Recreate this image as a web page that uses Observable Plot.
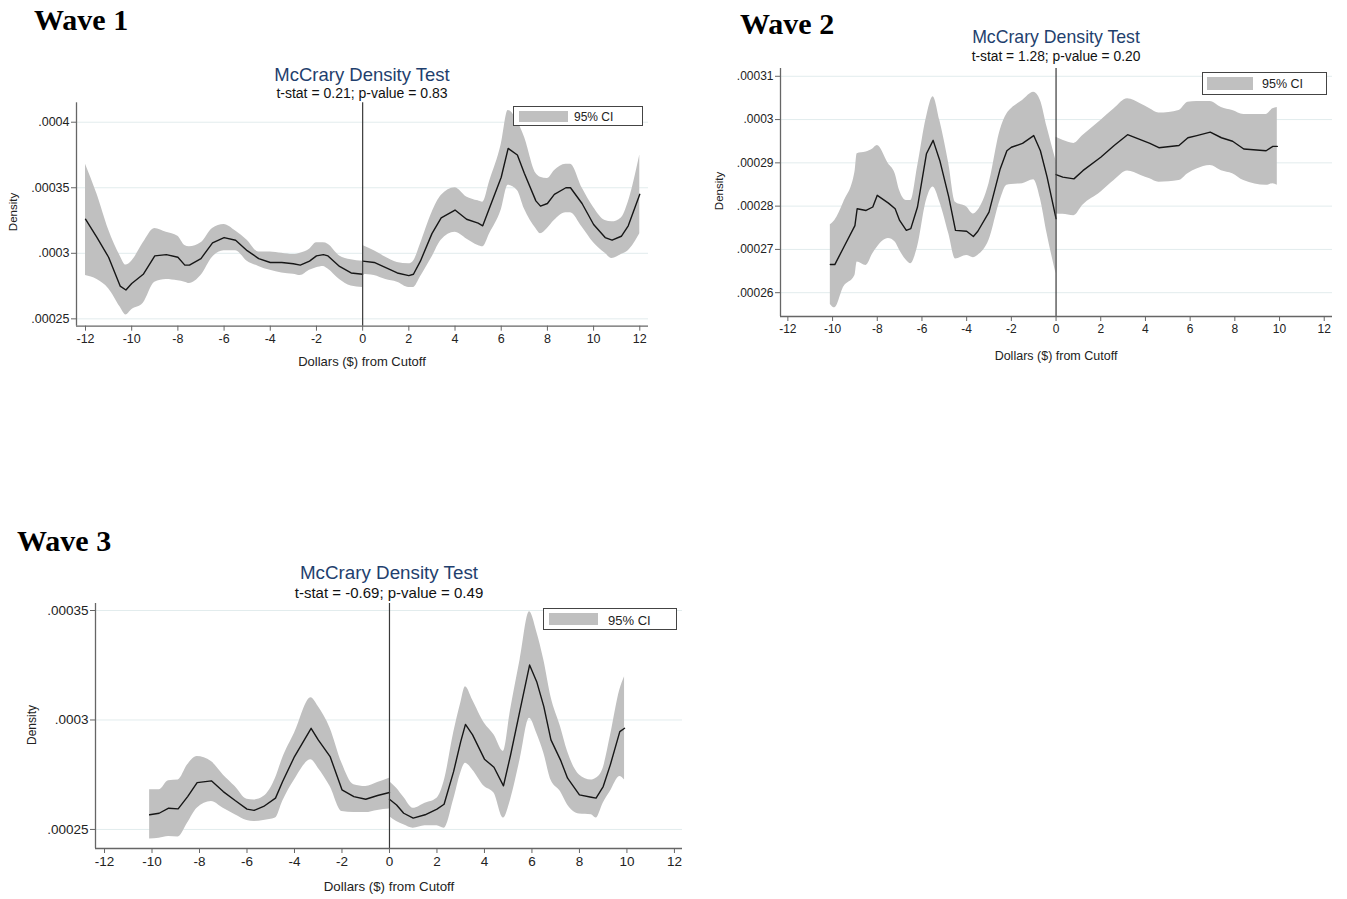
<!DOCTYPE html>
<html>
<head>
<meta charset="utf-8">
<script src="https://cdn.jsdelivr.net/npm/d3@7"></script>
<script src="https://cdn.jsdelivr.net/npm/@observablehq/plot@0.6"></script>
<style>
  html, body { margin: 0; padding: 0; background: #fff; }
  #root { position: relative; width: 1347px; height: 899px; overflow: hidden; font-family: "Liberation Sans", Arial, sans-serif; }
  .abs { position: absolute; white-space: nowrap; line-height: 1; }
  .ctr { transform: translate(-50%, -50%); }
  .wave { font-family: "Liberation Serif", serif; font-weight: bold; font-size: 30px; color: #000; }
  .title { color: #1f3f6e; }
  .sub { color: #111; }
  .axt { color: #222; }
  .rot { transform: translate(-50%, -50%) rotate(-90deg); }
  .legend { border: 1px solid #444; background: #fff; box-sizing: border-box; }
  .sw { background: #c0c0c0; }
</style>
</head>
<body>
<div id="root"></div>
<script>
// ---------- Data ----------
const xTicks = [-12, -10, -8, -6, -4, -2, 0, 2, 4, 6, 8, 10, 12];
const xAxisTitle = "Dollars ($) from Cutoff";
const yAxisTitle = "Density";
const chartTitle = "McCrary Density Test";
const legendLabel = "95% CI";
const waveLabels = ["Wave 1", "Wave 2", "Wave 3"];
const subtitles = ["t-stat = 0.21; p-value = 0.83", "t-stat = 1.28; p-value = 0.20", "t-stat = -0.69; p-value = 0.49"];

const w1YTicks = [0.00025, 0.0003, 0.00035, 0.0004];
const w2YTicks = [0.00026, 0.00027, 0.00028, 0.00029, 0.0003, 0.00031];
const w3YTicks = [0.00025, 0.0003, 0.00035];

// Wave 1, left of cutoff
const w1LeftX   = [-12, -11.5, -11, -10.5, -10.25, -10, -9.5, -9, -8.5, -8, -7.7, -7.5, -7, -6.5, -6, -5.5, -5, -4.5, -4, -3.5, -3, -2.7, -2.3, -2, -1.7, -1.5, -1, -0.5, 0];
const w1LeftEst = [0.000326, 0.000312, 0.000297, 0.000275, 0.000272, 0.000277, 0.000284, 0.000298, 0.000299, 0.000297, 0.000291, 0.000291, 0.000296, 0.000308, 0.000312, 0.000310, 0.000302, 0.000296, 0.000293, 0.000293, 0.000292, 0.000291, 0.000294, 0.000298, 0.000299, 0.000298, 0.000290, 0.000285, 0.000284];
const w1LeftLo  = [0.000283, 0.000280, 0.000273, 0.000259, 0.000253, 0.000257, 0.000262, 0.000278, 0.000280, 0.000279, 0.000278, 0.000277, 0.000283, 0.000297, 0.000302, 0.000302, 0.000294, 0.000290, 0.000287, 0.000285, 0.000284, 0.000283, 0.000287, 0.000289, 0.000290, 0.000288, 0.000280, 0.000275, 0.000274];
const w1LeftHi  = [0.000368, 0.000345, 0.000318, 0.000298, 0.000291, 0.000294, 0.000308, 0.000319, 0.000316, 0.000313, 0.000306, 0.000305, 0.000308, 0.000319, 0.000322, 0.000317, 0.000310, 0.000301, 0.000301, 0.000300, 0.000299, 0.000300, 0.000303, 0.000308, 0.000308, 0.000307, 0.000298, 0.000295, 0.000294];
// Wave 1, right of cutoff
const w1RightX   = [0, 0.5, 1, 1.5, 2, 2.2, 2.5, 3, 3.4, 4, 4.5, 5, 5.2, 5.5, 6, 6.3, 6.7, 7, 7.5, 7.7, 8, 8.3, 8.8, 9, 9.5, 10, 10.5, 10.8, 11.2, 11.5, 12];
const w1RightEst = [0.000294, 0.000293, 0.000289, 0.000285, 0.000283, 0.000284, 0.000294, 0.000315, 0.000327, 0.000333, 0.000326, 0.000323, 0.000321, 0.000335, 0.000358, 0.000380, 0.000375, 0.000361, 0.000340, 0.000336, 0.000338, 0.000345, 0.000350, 0.000350, 0.000338, 0.000322, 0.000312, 0.000310, 0.000313, 0.000321, 0.000345];
const w1RightLo  = [0.000284, 0.000283, 0.000280, 0.000278, 0.000274, 0.000274, 0.000282, 0.000297, 0.000310, 0.000316, 0.000311, 0.000306, 0.000305, 0.000315, 0.000333, 0.000352, 0.000348, 0.000334, 0.000319, 0.000315, 0.000319, 0.000325, 0.000331, 0.000331, 0.000320, 0.000308, 0.000300, 0.000296, 0.000299, 0.000302, 0.000315];
const w1RightHi  = [0.000306, 0.000302, 0.000297, 0.000293, 0.000292, 0.000294, 0.000307, 0.000331, 0.000344, 0.000350, 0.000343, 0.000340, 0.000339, 0.000355, 0.000383, 0.000409, 0.000401, 0.000389, 0.000361, 0.000358, 0.000357, 0.000363, 0.000368, 0.000368, 0.000350, 0.000335, 0.000325, 0.000324, 0.000327, 0.000339, 0.000375];

// Wave 2, left of cutoff
const w2LeftX   = [-10.1, -9.9, -9.5, -9, -8.9, -8.5, -8.2, -8, -7.5, -7.2, -7, -6.7, -6.5, -6.2, -5.8, -5.5, -5.2, -4.8, -4.5, -4, -3.7, -3.5, -3, -2.5, -2.2, -2, -1.5, -1, -0.7, -0.4, 0];
const w2LeftEst = [0.0002665, 0.0002665, 0.0002705, 0.0002755, 0.0002794, 0.0002790, 0.0002798, 0.0002825, 0.0002807, 0.0002794, 0.0002767, 0.0002744, 0.0002748, 0.0002798, 0.0002921, 0.0002952, 0.0002905, 0.0002821, 0.0002744, 0.0002742, 0.0002730, 0.0002742, 0.0002786, 0.0002886, 0.0002928, 0.0002936, 0.0002945, 0.0002963, 0.0002928, 0.0002867, 0.0002771];
const w2LeftLo  = [0.0002573, 0.0002565, 0.0002613, 0.0002640, 0.0002671, 0.0002663, 0.0002690, 0.0002705, 0.0002725, 0.0002717, 0.0002698, 0.0002675, 0.0002667, 0.0002705, 0.0002813, 0.0002844, 0.0002809, 0.0002736, 0.0002678, 0.0002686, 0.0002681, 0.0002686, 0.0002721, 0.0002813, 0.0002848, 0.0002850, 0.0002852, 0.0002861, 0.0002817, 0.0002736, 0.0002644];
const w2LeftHi  = [0.0002757, 0.0002767, 0.0002809, 0.0002878, 0.0002921, 0.0002925, 0.0002932, 0.0002940, 0.0002898, 0.0002875, 0.0002836, 0.0002813, 0.0002813, 0.0002890, 0.0003005, 0.0003053, 0.0002998, 0.0002898, 0.0002809, 0.0002798, 0.0002782, 0.0002790, 0.0002852, 0.0002975, 0.0003013, 0.0003025, 0.0003044, 0.0003063, 0.0003044, 0.0002982, 0.0002905];
// Wave 2, right of cutoff
const w2RightX   = [0, 0.3, 0.8, 1.2, 2, 2.6, 3.2, 3.8, 4.2, 4.6, 5.5, 5.9, 6.3, 6.9, 7.4, 7.9, 8.4, 9.4, 9.7, 9.9];
const w2RightEst = [0.0002873, 0.0002867, 0.0002863, 0.0002882, 0.0002913, 0.0002940, 0.0002965, 0.0002953, 0.0002945, 0.0002935, 0.0002940, 0.0002958, 0.0002963, 0.0002971, 0.0002958, 0.0002950, 0.0002932, 0.0002928, 0.0002938, 0.0002938];
const w2RightLo  = [0.0002782, 0.0002781, 0.0002778, 0.0002802, 0.0002832, 0.0002859, 0.0002881, 0.0002871, 0.0002863, 0.0002855, 0.0002859, 0.0002875, 0.0002886, 0.0002894, 0.0002882, 0.0002875, 0.0002859, 0.0002848, 0.0002852, 0.0002848];
const w2RightHi  = [0.0002959, 0.0002952, 0.0002945, 0.0002963, 0.0002998, 0.0003025, 0.0003048, 0.0003036, 0.0003025, 0.0003015, 0.0003021, 0.0003040, 0.0003042, 0.0003042, 0.0003028, 0.0003021, 0.0003012, 0.0003012, 0.0003025, 0.0003028];

// Wave 3, left of cutoff
const w3LeftX   = [-10.1, -9.7, -9.3, -8.9, -8.5, -8.1, -7.5, -7, -6.5, -6, -5.7, -5.3, -4.8, -4.5, -4, -3.3, -3, -2.5, -2, -1.5, -1, -0.5, 0];
const w3LeftEst = [0.0002567, 0.0002574, 0.0002597, 0.0002594, 0.0002650, 0.0002714, 0.0002722, 0.0002673, 0.0002632, 0.0002593, 0.0002587, 0.0002605, 0.0002643, 0.0002719, 0.0002833, 0.0002962, 0.0002909, 0.0002833, 0.0002681, 0.0002650, 0.0002638, 0.0002655, 0.0002669];
const w3LeftLo  = [0.0002456, 0.0002460, 0.0002468, 0.0002465, 0.0002529, 0.0002597, 0.0002628, 0.0002597, 0.0002567, 0.0002541, 0.0002536, 0.0002541, 0.0002552, 0.0002628, 0.0002726, 0.0002818, 0.0002780, 0.0002696, 0.0002582, 0.0002577, 0.0002577, 0.0002587, 0.0002593];
const w3LeftHi  = [0.0002681, 0.0002681, 0.0002723, 0.0002726, 0.0002795, 0.0002833, 0.0002810, 0.0002749, 0.0002696, 0.0002638, 0.0002635, 0.0002650, 0.0002734, 0.0002825, 0.0002939, 0.0003102, 0.0003061, 0.0002962, 0.0002802, 0.0002704, 0.0002696, 0.0002714, 0.0002734];
// Wave 3, right of cutoff
const w3RightX   = [0, 0.3, 0.6, 1, 1.5, 2, 2.3, 2.7, 3, 3.2, 3.5, 4, 4.4, 4.8, 5.1, 5.5, 5.9, 6.2, 6.5, 6.8, 7.2, 7.5, 8, 8.5, 8.7, 9, 9.3, 9.7, 9.9];
const w3RightEst = [0.0002638, 0.0002612, 0.0002574, 0.0002552, 0.0002567, 0.0002593, 0.0002615, 0.0002764, 0.0002901, 0.0002980, 0.0002932, 0.0002821, 0.0002784, 0.0002699, 0.0002840, 0.0003046, 0.0003251, 0.0003175, 0.0003061, 0.0002909, 0.0002818, 0.0002734, 0.0002658, 0.0002647, 0.0002643, 0.0002696, 0.0002795, 0.0002947, 0.0002962];
const w3RightLo  = [0.0002559, 0.0002536, 0.0002521, 0.0002506, 0.0002517, 0.0002517, 0.0002506, 0.0002635, 0.0002757, 0.0002802, 0.0002772, 0.0002696, 0.0002666, 0.0002552, 0.0002635, 0.0002818, 0.0003008, 0.0002939, 0.0002848, 0.0002726, 0.0002673, 0.0002612, 0.0002571, 0.0002567, 0.0002552, 0.0002620, 0.0002673, 0.0002742, 0.0002726];
const w3RightHi  = [0.0002719, 0.0002688, 0.0002647, 0.0002597, 0.0002620, 0.0002643, 0.0002719, 0.0002939, 0.0003076, 0.0003152, 0.0003091, 0.0002985, 0.0002932, 0.0002856, 0.0003046, 0.0003274, 0.0003494, 0.0003403, 0.0003274, 0.0003106, 0.0002970, 0.0002856, 0.0002749, 0.0002726, 0.0002734, 0.0002780, 0.0002924, 0.0003137, 0.0003198];

// ---------- Helpers ----------
function rows(xs, est, lo, hi, side) {
  return xs.map((x, i) => ({x, est: est[i], lo: lo[i], hi: hi[i], side}));
}
const fmt = d => String(d).replace(/^0(?=\.)/, "");
const root = document.getElementById("root");

function addDiv(cls, text, css) {
  const el = document.createElement("div");
  el.className = "abs " + cls;
  el.textContent = text;
  Object.assign(el.style, css);
  root.appendChild(el);
  return el;
}

function panel(cfg) {
  const data = rows(cfg.lx, cfg.lest, cfg.llo, cfg.lhi, "L").concat(rows(cfg.rx, cfg.rest, cfg.rlo, cfg.rhi, "R"));
  const chart = Plot.plot({
    width: cfg.w, height: cfg.h,
    marginLeft: cfg.ml, marginRight: cfg.mr, marginTop: cfg.mt, marginBottom: cfg.mb,
    style: {fontFamily: "'Liberation Sans', Arial, sans-serif", fontSize: cfg.tickFont + "px", color: "#222", background: "transparent", overflow: "visible"},
    x: {domain: cfg.xd},
    y: {domain: cfg.yd},
    marks: [
      Plot.gridY(cfg.yTicks, {stroke: "#e2eced", strokeOpacity: 1, strokeWidth: 1}),
      Plot.areaY(data, {x: "x", y1: "lo", y2: "hi", z: "side", fill: "#c0c0c0", fillOpacity: 1, curve: "monotone-x"}),
      Plot.lineY(data, {x: "x", y: "est", z: "side", stroke: "#161616", strokeWidth: 1.4}),
      Plot.ruleX([0], {stroke: "#3a3a3a", strokeWidth: 1.2}),
      Plot.ruleX([cfg.xd[0]], {stroke: "#666", strokeWidth: 1.3}),
      Plot.ruleY([cfg.yd[0]], {stroke: "#666", strokeWidth: 1.3}),
      Plot.axisX({ticks: xTicks, tickFormat: d => String(d), tickSize: 5, tickPadding: 3, stroke: "#666", label: null}),
      Plot.axisY({ticks: cfg.yTicks, tickFormat: fmt, tickSize: 5, tickPadding: 2, stroke: "#666", label: null})
    ]
  });
  chart.style.position = "absolute";
  chart.style.left = cfg.left + "px";
  chart.style.top = cfg.top + "px";
  root.appendChild(chart);

  addDiv("wave", cfg.wave, {left: cfg.waveX + "px", top: cfg.waveY + "px"});
  addDiv("ctr title", chartTitle, {left: cfg.titleX + "px", top: cfg.titleY + "px", fontSize: cfg.titleFont + "px"});
  addDiv("ctr sub", cfg.sub, {left: cfg.titleX + "px", top: cfg.subY + "px", fontSize: cfg.subFont + "px"});
  addDiv("rot axt", yAxisTitle, {left: cfg.dens[0] + "px", top: cfg.dens[1] + "px", fontSize: cfg.densFont + "px"});
  addDiv("ctr axt", xAxisTitle, {left: cfg.xt[0] + "px", top: cfg.xt[1] + "px", fontSize: cfg.xtFont + "px"});
  const lg = cfg.legend;
  addDiv("legend", "", {left: lg.x + "px", top: lg.y + "px", width: lg.w + "px", height: lg.h + "px"});
  addDiv("sw", "", {left: lg.sx + "px", top: lg.sy + "px", width: lg.sw + "px", height: lg.sh + "px"});
  addDiv("", legendLabel, {left: lg.tx + "px", top: (lg.ty) + "px", transform: "translate(0,-50%)", fontSize: lg.font + "px", color: "#222"});
}

panel({
  left: 0, top: 60, w: 670, h: 320, ml: 76, mr: 22, mt: 42.3, mb: 54.3,
  xd: [-12.39, 12.377], yd: [0.0002444, 0.0004148], yTicks: w1YTicks, tickFont: 12.5,
  lx: w1LeftX, lest: w1LeftEst, llo: w1LeftLo, lhi: w1LeftHi,
  rx: w1RightX, rest: w1RightEst, rlo: w1RightLo, rhi: w1RightHi,
  wave: waveLabels[0], waveX: 34, waveY: 5,
  sub: subtitles[0], titleX: 362, titleY: 75, subY: 93, titleFont: 18.5, subFont: 14,
  dens: [14, 212], densFont: 11.5, xt: [362, 361], xtFont: 13,
  legend: {x: 513, y: 106, w: 130, h: 20, sx: 519, sy: 111, sw: 49, sh: 11, tx: 574, ty: 116.5, font: 12}
});

panel({
  left: 700, top: 40, w: 647, h: 320, ml: 80, mr: 15, mt: 28, mb: 44,
  xd: [-12.33, 12.37], yd: [0.0002545, 0.0003118], yTicks: w2YTicks, tickFont: 12,
  lx: w2LeftX, lest: w2LeftEst, llo: w2LeftLo, lhi: w2LeftHi,
  rx: w2RightX, rest: w2RightEst, rlo: w2RightLo, rhi: w2RightHi,
  wave: waveLabels[1], waveX: 740, waveY: 9,
  sub: subtitles[1], titleX: 1056, titleY: 38, subY: 57, titleFont: 17.7, subFont: 13.8,
  dens: [720, 191], densFont: 11.5, xt: [1056, 356], xtFont: 12.5,
  legend: {x: 1202, y: 72, w: 125, h: 23, sx: 1207, sy: 77, sw: 46, sh: 13, tx: 1262, ty: 84, font: 12.5}
});

panel({
  left: 0, top: 580, w: 700, h: 300, ml: 95, mr: 18, mt: 23, mb: 32,
  xd: [-12.38, 12.34], yd: [0.0002413, 0.0003532], yTicks: w3YTicks, tickFont: 13.5,
  lx: w3LeftX, lest: w3LeftEst, llo: w3LeftLo, lhi: w3LeftHi,
  rx: w3RightX, rest: w3RightEst, rlo: w3RightLo, rhi: w3RightHi,
  wave: waveLabels[2], waveX: 17, waveY: 526,
  sub: subtitles[2], titleX: 389, titleY: 573, subY: 592, titleFont: 18.8, subFont: 15,
  dens: [32, 725], densFont: 12, xt: [389, 887], xtFont: 13.3,
  legend: {x: 543, y: 608, w: 134, h: 22, sx: 549, sy: 613, sw: 49, sh: 12, tx: 608, ty: 619.5, font: 13}
});
</script>
</body>
</html>
